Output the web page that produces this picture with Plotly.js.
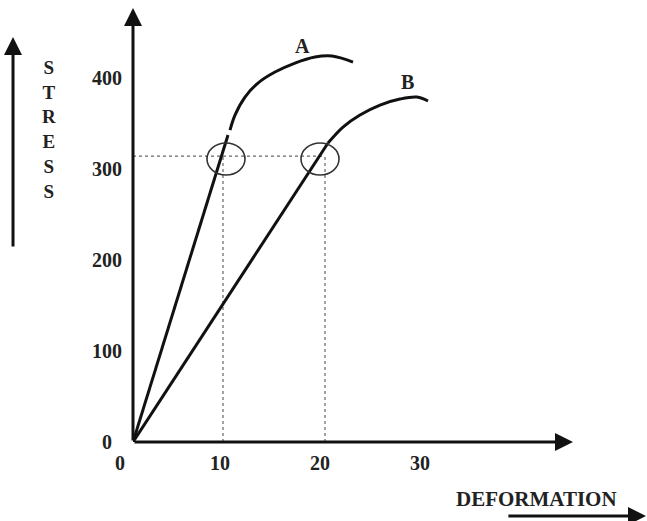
<!DOCTYPE html>
<html>
<head>
<meta charset="utf-8">
<script src="https://cdn.plot.ly/plotly-3.0.1.min.js"></script>
<style>html,body{margin:0;padding:0;background:#fff;}#chart{width:647px;height:521px;}</style>
</head>
<body>
<div id="chart"></div>
<script>
// ---- data (deformation, stress) ----
const xTickVals = [0, 10, 20, 30];
const xTickText = ['0', '10', '20', '30'];
const yTickVals = [0, 100, 200, 300, 400];
const yTickText = ['0\u2002', '100', '200', '300', '400'];

// Material A: elastic (straight) part and plastic (curved) part
const aLinearX = [0, 9.5];
const aLinearY = [0, 337.7];
const aCurveX = [9.7, 10.2, 11.2, 12.5, 14.2, 16.2, 18.2, 19.9, 22.0];
const aCurveY = [343.2, 359.7, 379.5, 394.9, 407.0, 416.9, 423.5, 424.6, 418.0];

// Material B
const bLinearX = [0, 19.5];
const bLinearY = [0, 328.9];
const bCurveX = [19.5, 21.0, 22.7, 24.7, 26.7, 28.4, 29.5];
const bCurveY = [328.9, 346.5, 359.7, 370.7, 377.3, 379.5, 375.1];

// yield stress level and the deformations marked with dotted lines
const yieldStress = 314.6;
const yieldDef = [9.0, 19.2];
// circled points
const circleX = [9.3, 18.7];
const circleY = [311.3, 311.3];

const curveLabels = ['A', 'B'];
const curveLabelX = [16.9, 27.4];
const curveLabelY = [436, 396];

// ---- drawing ----
const serif = '"Liberation Serif", "Times New Roman", serif';
const lineStyle = {color: '#111', width: 3};
const dotStyle = {color: '#666', width: 1.2, dash: 'dot'};

const traces = [
  {x: [0, yieldDef[1]], y: [yieldStress, yieldStress], mode: 'lines', line: dotStyle},
  {x: [yieldDef[0], yieldDef[0]], y: [0, yieldStress], mode: 'lines', line: dotStyle},
  {x: [yieldDef[1], yieldDef[1]], y: [0, yieldStress], mode: 'lines', line: dotStyle},
  {x: aLinearX, y: aLinearY, mode: 'lines', line: lineStyle},
  {x: aCurveX, y: aCurveY, mode: 'lines', line: Object.assign({shape: 'spline', smoothing: 1}, lineStyle)},
  {x: bLinearX, y: bLinearY, mode: 'lines', line: lineStyle},
  {x: bCurveX, y: bCurveY, mode: 'lines', line: Object.assign({shape: 'spline', smoothing: 1}, lineStyle)}
];

const rx = 1.9, ry = 17.6;
const shapes = circleX.map((cx, i) => ({
  type: 'circle', xref: 'x', yref: 'y',
  x0: cx - rx, x1: cx + rx, y0: circleY[i] - ry, y1: circleY[i] + ry,
  line: {color: '#333', width: 1.6}
}));

const arrowBase = {text: '', showarrow: true, arrowhead: 2, arrowsize: 1.2, arrowwidth: 3, arrowcolor: '#111', standoff: 0, startstandoff: 0};
const annotations = [
  Object.assign({x: 44, y: 0, ax: 0, ay: 0, xref: 'x', yref: 'y', axref: 'x', ayref: 'y'}, arrowBase),
  Object.assign({x: 0, y: 477.45, ax: 0, ay: 0, xref: 'x', yref: 'y', axref: 'x', ayref: 'y'}, arrowBase),
  Object.assign({x: -0.2727, y: 0.9332, ax: 0, ay: 211, xref: 'paper', yref: 'paper'}, arrowBase),
  Object.assign({x: 1.177, y: -0.1705, ax: -144, ay: 0, xref: 'paper', yref: 'paper'}, arrowBase),
  {text: 'S<br>T<br>R<br>E<br>S<br>S', xref: 'paper', yref: 'paper', x: -0.1909, y: 0.719,
   xanchor: 'center', yanchor: 'middle',
   showarrow: false, font: {family: serif, size: 19, color: '#222', weight: 'bold'}, align: 'center'},
  {text: 'DEFORMATION', xref: 'paper', yref: 'paper', x: 0.918, y: -0.131,
   xanchor: 'center', yanchor: 'middle',
   showarrow: false, font: {family: serif, size: 21, color: '#222', weight: 'bold'}}
].concat(curveLabels.map((t, i) => ({
  text: t, x: curveLabelX[i], y: curveLabelY[i], xref: 'x', yref: 'y', showarrow: false,
  xanchor: 'center', yanchor: 'middle',
  font: {family: serif, size: 20, color: '#222', weight: 'bold'}
})));

const tickFont = {family: serif, size: 20, color: '#222', weight: 'bold'};
const layout = {
  width: 647, height: 521,
  margin: {l: 133, r: 74, t: 8, b: 79},
  paper_bgcolor: '#fff', plot_bgcolor: '#fff',
  showlegend: false,
  xaxis: {range: [0, 44], showgrid: false, zeroline: false, showline: false,
          tickvals: xTickVals, ticktext: xTickText, ticks: '', tickfont: tickFont,
          ticklabelshift: -13, ticklabelstandoff: 7, fixedrange: true},
  yaxis: {range: [0, 477.45], showgrid: false, zeroline: false, showline: false,
          tickvals: yTickVals, ticktext: yTickText, ticks: '', tickfont: tickFont,
          ticklabelstandoff: 10, fixedrange: true},
  shapes: shapes,
  annotations: annotations
};

Plotly.newPlot('chart', traces, layout, {displayModeBar: false, staticPlot: true});
</script>
</body>
</html>
